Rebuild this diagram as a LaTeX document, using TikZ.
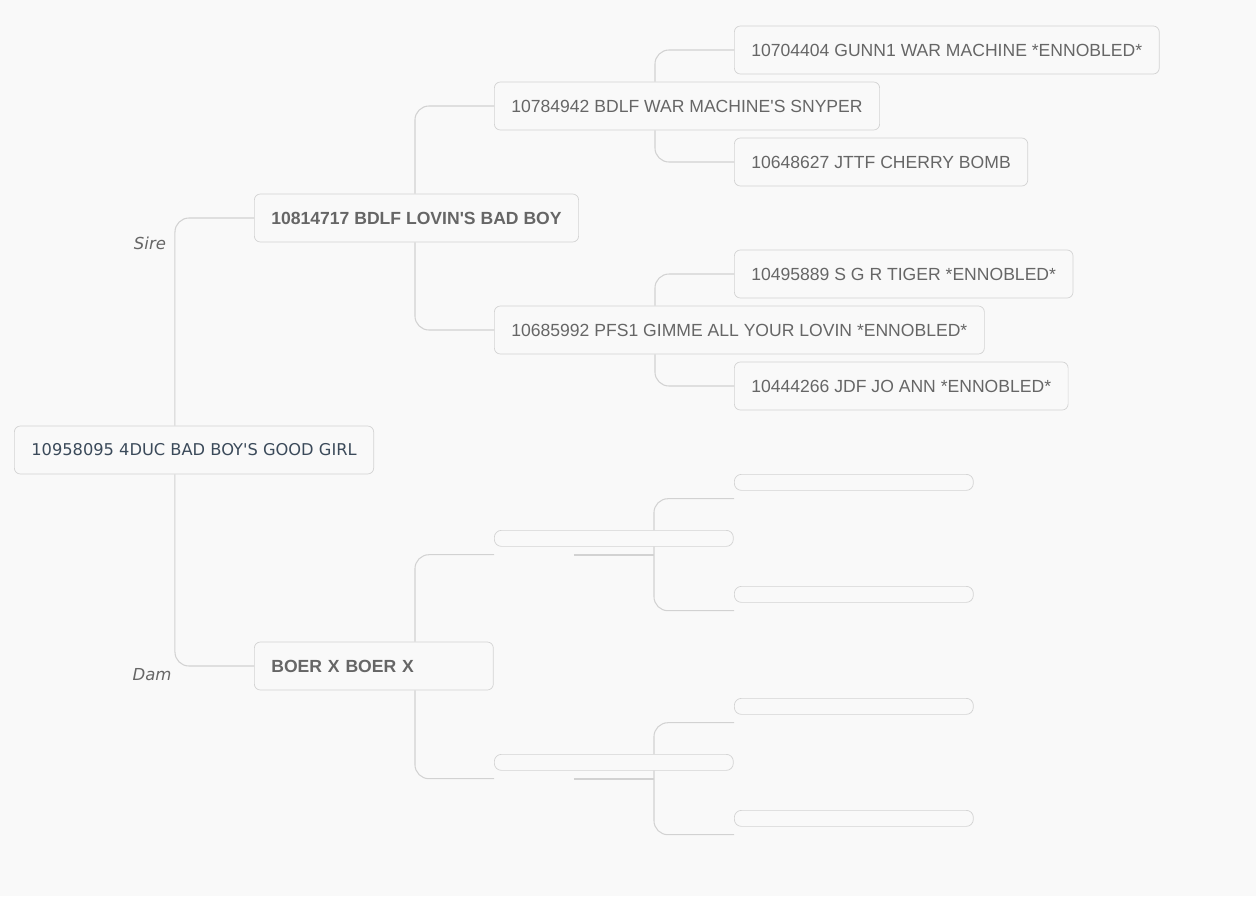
\documentclass[tikz,border=0pt]{standalone}
\usepackage{fontspec}
\setmainfont{Liberation Sans}
\newfontfamily\rootfont{DejaVu Sans}
\definecolor{bgcol}{HTML}{F9F9F9}
\definecolor{linecol}{HTML}{D2D2D2}
\definecolor{boxline}{HTML}{D3D3D3}
\definecolor{txtcol}{HTML}{666666}
\definecolor{rootcol}{HTML}{3B4A5A}
\begin{document}
\begin{tikzpicture}[x = 0.02cm, y = -0.02cm,
  horse/.style = {draw = boxline, fill = bgcol, rounded corners = 0.12cm, anchor = west,
    minimum height = 0.96cm, inner xsep = 0.34cm, text = txtcol, font = \fontsize{10}{12}\selectfont},
  blank/.style = {draw = boxline, fill = bgcol, rounded corners = 0.14cm, anchor = north west,
    minimum width = 4.78cm, minimum height = 0.32cm, inner sep = 0pt},
  lbl/.style = {text = txtcol, font = \rootfont\itshape\fontsize{9.4}{11}\selectfont},
  link/.style = {draw = linecol, line width = 0.6pt, rounded corners = 0.28cm},
  stub/.style = {draw = linecol, line width = 1.1pt}]
\useasboundingbox[fill = bgcol] (0,0) rectangle (1256,896);
% boxes
\node[horse, text = rootcol, font = \rootfont\fontsize{9.25}{11}\selectfont] at (14,450) (root) {10958095 4DUC BAD BOY'S GOOD GIRL};
\node[horse, font = \bfseries\fontsize{10}{12}\selectfont] at (254,218) (sire) {10814717 BDLF LOVIN\textquotesingle S BAD BOY};
\node[horse, font = \bfseries\fontsize{10}{12}\selectfont, text width = 4.1cm, align = left] at (254,666) (dam) {BOER X BOER X};
\node[horse] at (494,106) (ss) {10784942 BDLF WAR MACHINE\textquotesingle S SNYPER};
\node[horse] at (494,330) (sd) {10685992 PFS1 GIMME ALL YOUR LOVIN *ENNOBLED*};
\node[blank] at (494,530) (ds) {};
\node[blank] at (494,754) (dd) {};
\node[horse] at (734,50) (sss) {10704404 GUNN1 WAR MACHINE *ENNOBLED*};
\node[horse] at (734,162) (ssd) {10648627 JTTF CHERRY BOMB};
\node[horse] at (734,274) (sds) {10495889 S G R TIGER *ENNOBLED*};
\node[horse] at (734,386) (sdd) {10444266 JDF JO ANN *ENNOBLED*};
\node[blank] at (734,474) (dss) {};
\node[blank] at (734,586) (dsd) {};
\node[blank] at (734,698) (dds) {};
\node[blank] at (734,810) (ddd) {};
% attach points of the empty boxes
\coordinate (dsc) at ([yshift = -0.16cm]ds.south west);
\coordinate (ddc) at ([yshift = -0.16cm]dd.south west);
\coordinate (dssc) at ([yshift = -0.16cm]dss.south west);
\coordinate (dsdc) at ([yshift = -0.16cm]dsd.south west);
\coordinate (ddsc) at ([yshift = -0.16cm]dds.south west);
\coordinate (dddc) at ([yshift = -0.16cm]ddd.south west);
% lines
\draw[link] ([xshift = 3.22cm]root.north west) |- (sire.west);
\draw[link] ([xshift = 3.22cm]root.south west) |- (dam.west);
\draw[link] ([xshift = 3.22cm]sire.north west) |- (ss.west);
\draw[link] ([xshift = 3.22cm]sire.south west) |- (sd.west);
\draw[link] ([xshift = 3.22cm]dam.north west) |- (dsc);
\draw[link] ([xshift = 3.22cm]dam.south west) |- (ddc);
\draw[link] ([xshift = 3.22cm]ss.north west) |- (sss.west);
\draw[link] ([xshift = 3.22cm]ss.south west) |- (ssd.west);
\draw[link] ([xshift = 3.22cm]sd.north west) |- (sds.west);
\draw[link] ([xshift = 3.22cm]sd.south west) |- (sdd.west);
\draw[link] ([xshift = 3.2cm]ds.north west) |- (dssc);
\draw[link] ([xshift = 3.2cm]ds.south west) |- (dsdc);
\draw[link] ([xshift = 3.2cm]dd.north west) |- (ddsc);
\draw[link] ([xshift = 3.2cm]dd.south west) |- (dddc);
\draw[stub] ([xshift = 1.6cm]dsc) -- ([xshift = 3.2cm]dsc);
\draw[stub] ([xshift = 1.6cm]ddc) -- ([xshift = 3.2cm]ddc);
% labels
\node[lbl] at (150,243) (sirelbl) {Sire};
\node[lbl] at (152,675) (damlbl) {Dam};
\end{tikzpicture}
\end{document}
